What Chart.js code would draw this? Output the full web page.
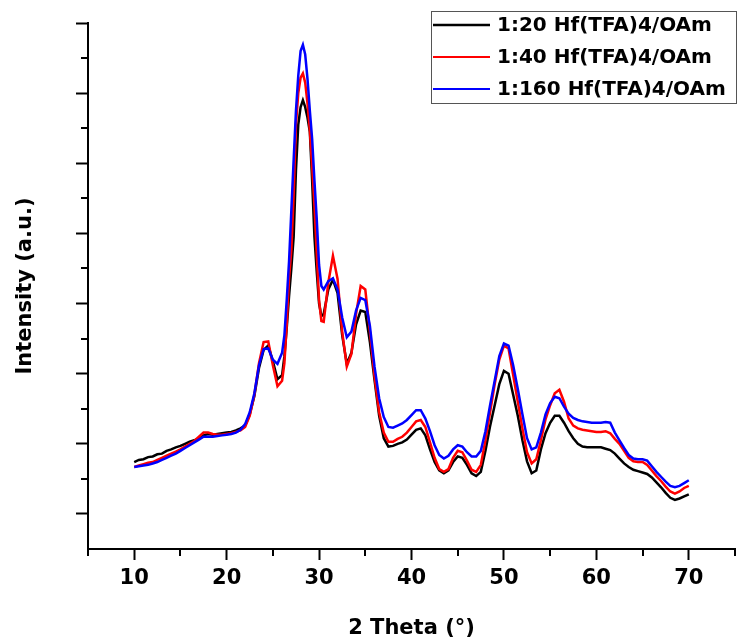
<!DOCTYPE html>
<html>
<head>
<meta charset="utf-8">
<script src="https://cdn.jsdelivr.net/npm/chart.js@4"></script>
<style>
  html, body { margin: 0; padding: 0; background: #fff; }
  #wrap { width: 745px; height: 643px; }
</style>
</head>
<body>
<div id="wrap"><canvas id="xrdChart" width="745" height="643"></canvas></div>
<script>
// 2 Theta (degrees)
const theta = [
  10, 10.5, 11, 11.5, 12, 12.5, 13, 13.5, 14, 14.5, 15, 15.5, 16, 16.5, 17, 17.5,
  18, 18.5, 19, 19.5, 20, 20.5, 21, 21.5, 22, 22.5, 23, 23.5, 24, 24.5, 25, 25.5, 26,
  26.25, 26.5, 26.75, 27, 27.25, 27.5, 27.75, 28, 28.25, 28.5, 28.75, 29, 29.25, 29.5, 29.75, 30, 30.25, 30.5,
  31, 31.5, 32, 32.5, 33, 33.5, 34, 34.5, 35, 35.5, 36, 36.5, 37, 37.5, 38, 38.5, 39, 39.5,
  40, 40.5, 41, 41.5, 42, 42.5, 43, 43.5, 44, 44.5, 45, 45.5, 46, 46.5, 47, 47.5, 48, 48.5,
  49, 49.5, 50, 50.5, 51, 51.5, 52, 52.5, 53, 53.5, 54, 54.5, 55, 55.5, 56, 56.5, 57, 57.5,
  58, 58.5, 59, 59.5, 60, 60.5, 61, 61.5, 62, 62.5, 63, 63.5, 64, 64.5, 65, 65.5, 66, 66.5,
  67, 67.5, 68, 68.5, 69, 69.5, 70
];

// intensity (a.u.) for each ratio
const hf20 = [
  1.24, 1.27, 1.28, 1.31, 1.32, 1.35, 1.36, 1.40, 1.42, 1.45, 1.47, 1.50, 1.53, 1.55, 1.58, 1.62,
  1.64, 1.63, 1.64, 1.65, 1.66, 1.67, 1.69, 1.72, 1.76, 1.92, 2.18, 2.58, 2.84, 2.90, 2.68, 2.42, 2.48,
  2.75, 3.15, 3.60, 4.00, 4.45, 5.40, 6.05, 6.30, 6.40, 6.30, 6.15, 5.95, 5.25, 4.45, 3.95, 3.50, 3.32, 3.35,
  3.70, 3.84, 3.65, 3.05, 2.64, 2.80, 3.20, 3.40, 3.38, 2.95, 2.41, 1.90, 1.58, 1.46, 1.47, 1.50, 1.52, 1.56,
  1.63, 1.70, 1.72, 1.62, 1.42, 1.24, 1.12, 1.08, 1.12, 1.24, 1.32, 1.30, 1.20, 1.08, 1.04, 1.10, 1.40, 1.75,
  2.05, 2.35, 2.54, 2.50, 2.20, 1.90, 1.55, 1.25, 1.08, 1.12, 1.42, 1.65, 1.80, 1.90, 1.90, 1.80, 1.68, 1.58,
  1.50, 1.46, 1.45, 1.45, 1.45, 1.45, 1.43, 1.41, 1.36, 1.29, 1.22, 1.17, 1.13, 1.11, 1.09, 1.07, 1.02, 0.95,
  0.88, 0.80, 0.73, 0.70, 0.72, 0.75, 0.78
];
const hf40 = [
  1.17, 1.19, 1.21, 1.23, 1.24, 1.27, 1.30, 1.33, 1.36, 1.39, 1.42, 1.46, 1.50, 1.54, 1.60, 1.66,
  1.66, 1.64, 1.63, 1.63, 1.64, 1.65, 1.67, 1.69, 1.74, 1.90, 2.20, 2.65, 2.95, 2.96, 2.62, 2.32, 2.40,
  2.65, 3.20, 3.85, 4.26, 5.05, 6.05, 6.50, 6.72, 6.78, 6.65, 6.35, 5.97, 5.45, 4.90, 4.20, 3.55, 3.25, 3.24,
  3.80, 4.18, 3.85, 3.10, 2.60, 2.78, 3.35, 3.75, 3.70, 3.10, 2.46, 1.95, 1.66, 1.53, 1.53, 1.57, 1.60, 1.66,
  1.74, 1.82, 1.84, 1.74, 1.52, 1.30, 1.14, 1.10, 1.14, 1.30, 1.40, 1.38, 1.26, 1.13, 1.10, 1.20, 1.55, 1.95,
  2.35, 2.70, 2.90, 2.86, 2.48, 2.10, 1.72, 1.38, 1.22, 1.28, 1.55, 1.85, 2.05, 2.22, 2.27, 2.10, 1.86, 1.76,
  1.72, 1.70, 1.69, 1.68, 1.67, 1.67, 1.68, 1.65, 1.57, 1.50, 1.40, 1.30, 1.25, 1.24, 1.24, 1.20, 1.12, 1.04,
  0.97, 0.89, 0.82, 0.79, 0.82, 0.87, 0.90
];
const hf160 = [
  1.17, 1.18, 1.19, 1.20, 1.22, 1.24, 1.27, 1.30, 1.33, 1.36, 1.40, 1.44, 1.48, 1.52, 1.56, 1.60,
  1.60, 1.60, 1.61, 1.62, 1.63, 1.64, 1.66, 1.70, 1.78, 1.95, 2.22, 2.62, 2.85, 2.86, 2.70, 2.64, 2.80,
  3.05, 3.55, 4.10, 4.83, 5.55, 6.25, 6.75, 7.10, 7.19, 7.05, 6.70, 6.25, 5.85, 5.25, 4.70, 4.05, 3.75, 3.70,
  3.82, 3.86, 3.70, 3.30, 3.02, 3.10, 3.40, 3.58, 3.55, 3.18, 2.60, 2.15, 1.88, 1.74, 1.73, 1.76, 1.79, 1.84,
  1.91, 1.98, 1.98, 1.86, 1.68, 1.48, 1.34, 1.29, 1.33, 1.42, 1.48, 1.46, 1.38, 1.32, 1.32, 1.40, 1.68, 2.05,
  2.40, 2.75, 2.93, 2.90, 2.62, 2.28, 1.92, 1.58, 1.42, 1.45, 1.66, 1.92, 2.08, 2.17, 2.15, 2.03, 1.93, 1.87,
  1.84, 1.82, 1.81, 1.80, 1.80, 1.80, 1.81, 1.80, 1.66, 1.55, 1.44, 1.34, 1.29, 1.28, 1.28, 1.26, 1.18, 1.10,
  1.03, 0.96, 0.90, 0.88, 0.90, 0.94, 0.98
];

const seriesNames = ['1:20 Hf(TFA)4/OAm', '1:40 Hf(TFA)4/OAm', '1:160 Hf(TFA)4/OAm'];

// axis ticks
const xTicks = [10, 20, 30, 40, 50, 60, 70];
const xMinorTicks = [5, 15, 25, 35, 45, 55, 65, 75];
const yTicks = [0.5, 1.5, 2.5, 3.5, 4.5, 5.5, 6.5, 7.5];
const yMinorTicks = [1, 2, 3, 4, 5, 6, 7];

const FONT = '"DejaVu Sans", sans-serif';

function toPoints(values) {
    return values.map((v, i) => ({ x: theta[i], y: v }));
}

// short ticks between the labelled ones
const minorTicks = {
    id: 'minorTicks',
    afterDraw(chart) {
        const { ctx, scales: { x, y } } = chart;
        ctx.save();
        ctx.strokeStyle = '#000';
        ctx.lineWidth = 2;
        ctx.beginPath();
        xMinorTicks.forEach(v => {
            const px = Math.round(x.getPixelForValue(v));
            ctx.moveTo(px, x.top);
            ctx.lineTo(px, x.top + 7);
        });
        yMinorTicks.forEach(v => {
            const py = Math.round(y.getPixelForValue(v));
            ctx.moveTo(y.right, py);
            ctx.lineTo(y.right - 7, py);
        });
        ctx.stroke();
        ctx.restore();
    }
};

// framed legend in the top right corner
const boxLegend = {
    id: 'boxLegend',
    afterDraw(chart) {
        const { ctx, chartArea } = chart;
        const w = 305, h = 92;
        const left = chartArea.right - w + 1;
        const top = 11;
        ctx.save();
        ctx.strokeStyle = '#555';
        ctx.lineWidth = 1;
        ctx.strokeRect(left + 0.5, top + 0.5, w, h);
        ctx.font = 'bold 20px ' + FONT;
        ctx.textBaseline = 'middle';
        chart.data.datasets.forEach((ds, i) => {
            const yy = top + 14 + i * 32;
            ctx.strokeStyle = ds.borderColor;
            ctx.lineWidth = i === 0 ? 2.5 : 2;
            ctx.beginPath();
            ctx.moveTo(left + 2, yy);
            ctx.lineTo(left + 59, yy);
            ctx.stroke();
            ctx.fillStyle = '#000';
            ctx.fillText(ds.label, left + 66, yy + 1);
        });
        ctx.restore();
    }
};

const ctx = document.getElementById('xrdChart').getContext('2d');
new Chart(ctx, {
    type: 'line',
    data: {
        datasets: [{
            label: seriesNames[0],
            data: toPoints(hf20),
            borderColor: '#000000',
            borderWidth: 2.5,
            order: 3
        }, {
            label: seriesNames[1],
            data: toPoints(hf40),
            borderColor: '#ff0000',
            borderWidth: 2.5,
            order: 2
        }, {
            label: seriesNames[2],
            data: toPoints(hf160),
            borderColor: '#0000ff',
            borderWidth: 2.5,
            order: 1
        }]
    },
    options: {
        responsive: false,
        animation: false,
        elements: { point: { radius: 0 }, line: { tension: 0, fill: false } },
        layout: { padding: { top: 23, right: 10, left: 0, bottom: 0 } },
        plugins: {
            legend: { display: false },
            tooltip: { enabled: false }
        },
        scales: {
            x: {
                type: 'linear',
                min: 5,
                max: 75,
                afterBuildTicks: scale => { scale.ticks = xTicks.map(v => ({ value: v })); },
                afterFit: scale => { scale.height = 94; },
                border: { display: true, color: '#000', width: 2 },
                grid: { drawOnChartArea: false, drawTicks: true, tickLength: 11, tickWidth: 2, tickColor: '#000' },
                ticks: {
                    color: '#000',
                    padding: 6,
                    maxRotation: 0,
                    font: { family: FONT, size: 21, weight: 'bold' }
                },
                title: {
                    display: true,
                    text: '2 Theta (°)',
                    color: '#000',
                    padding: { top: 0, bottom: 2 },
                    font: { family: FONT, size: 21, weight: 'bold' }
                }
            },
            y: {
                type: 'linear',
                min: 0,
                max: 7.5,
                afterBuildTicks: scale => { scale.ticks = yTicks.map(v => ({ value: v })); },
                afterFit: scale => { scale.width = 88; },
                border: { display: true, color: '#000', width: 2 },
                grid: { drawOnChartArea: false, drawTicks: true, tickLength: 12, tickWidth: 2, tickColor: '#000' },
                ticks: { display: false },
                title: {
                    display: true,
                    text: 'Intensity (a.u.)',
                    color: '#000',
                    padding: { top: 13, bottom: 0 },
                    font: { family: FONT, size: 21, weight: 'bold' }
                }
            }
        }
    },
    plugins: [minorTicks, boxLegend]
});
</script>
</body>
</html>
